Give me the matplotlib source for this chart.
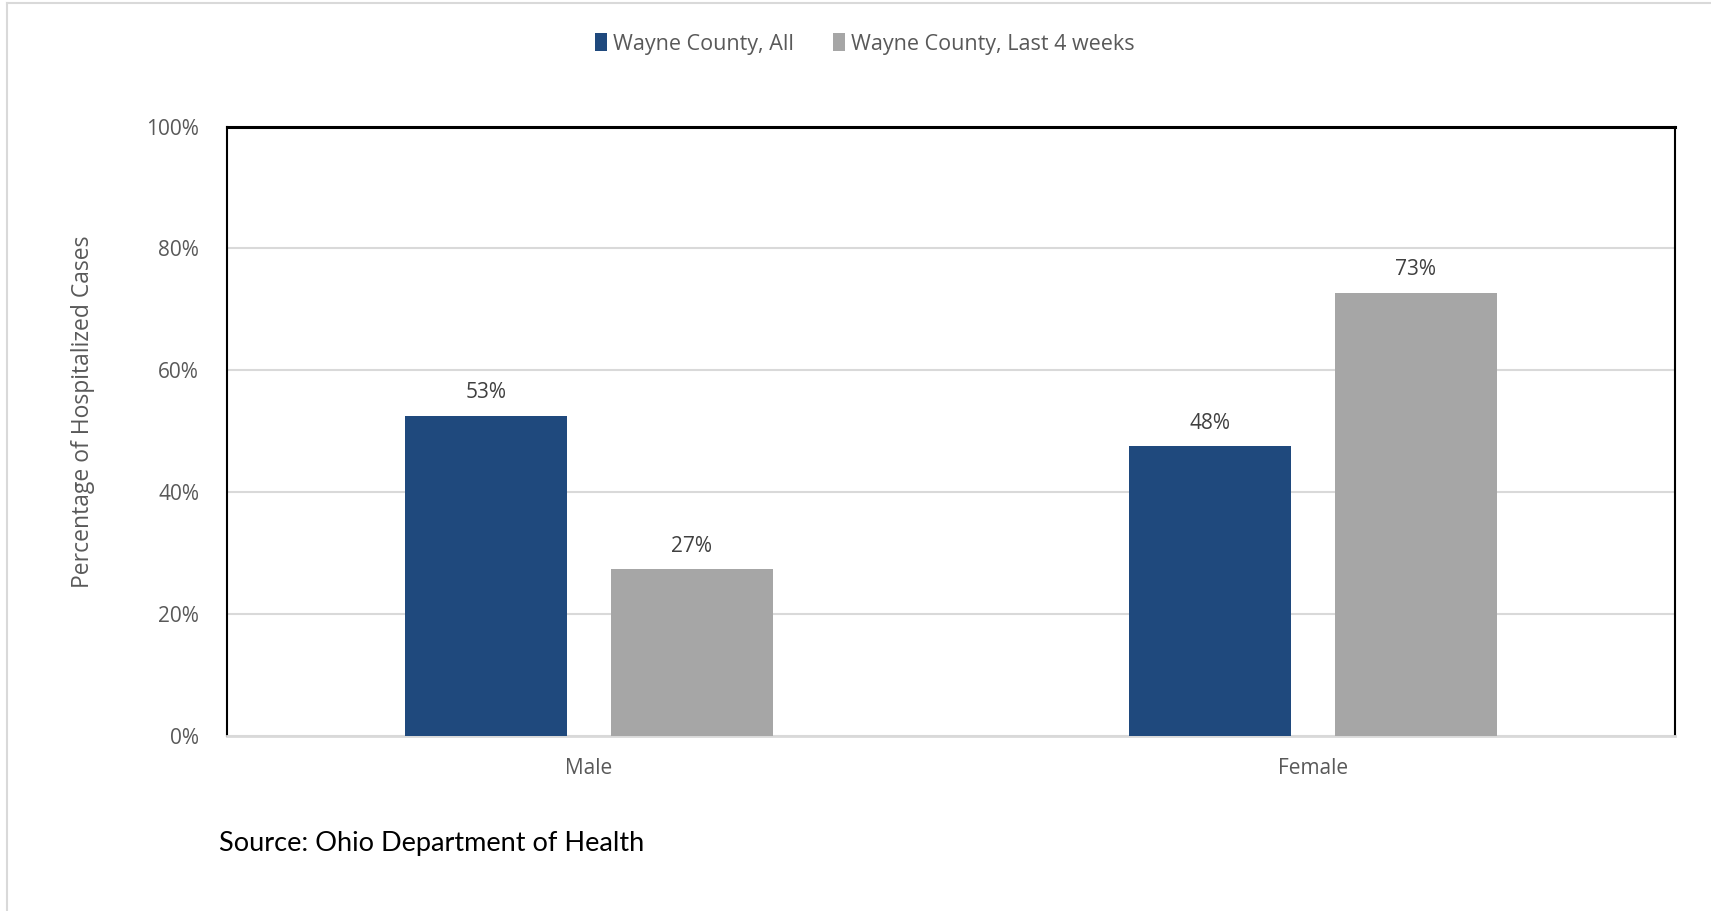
import matplotlib
matplotlib.use("Agg")
import matplotlib.pyplot as plt
import numpy as np
from matplotlib.patches import Patch
from matplotlib.lines import Line2D

categories = ["Male", "Female"]
series_names = ["Wayne County, All", "Wayne County, Last 4 weeks"]
all_vals = [52.5, 47.5]
last4_vals = [27.3, 72.7]
yticks = [0, 20, 40, 60, 80, 100]
ytick_labels = ["0%", "20%", "40%", "60%", "80%", "100%"]
source_text = "Source: Ohio Department of Health"
ylabel = "Percentage of Hospitalized Cases"

blue = "#1F497D"
gray = "#A6A6A6"
txt = "#595959"

font = "Open Sans"

fig = plt.figure(figsize=(17.11, 9.11), dpi=100)
ax = fig.add_axes([227/1711, 1-735.5/911, (1675-227)/1711, (735.5-126.6)/911])

x = np.arange(len(categories))
w = 0.224
off = 0.142
b1 = ax.bar(x - off, all_vals, w, color=blue, zorder=3)
b2 = ax.bar(x + off, last4_vals, w, color=gray, zorder=3)

def lab(v):
    return f"{int(v + 0.5)}%"

for bars, vals in ((b1, all_vals), (b2, last4_vals)):
    for r, v in zip(bars, vals):
        ax.annotate(lab(v), (r.get_x() + r.get_width()/2, v), xytext=(0, 9),
                    textcoords="offset points", ha="center", va="bottom",
                    fontsize=15, color="#404040", family=font)

ax.set_xlim(-0.5, 1.5)
ax.set_ylim(0, 100)
ax.set_yticks(yticks)
ax.set_yticklabels(ytick_labels, family=font, fontsize=15, color=txt)
ax.set_xticks(x)
ax.set_xticklabels(categories, family=font, fontsize=15, color=txt)
ax.tick_params(axis="both", length=0)
ax.tick_params(axis="y", pad=20)
ax.tick_params(axis="x", pad=16)
ax.yaxis.grid(True, color="#D9D9D9", linewidth=1.5, zorder=0)
ax.set_axisbelow(True)
for s in ("top", "left", "right"):
    ax.spines[s].set_color("black")
ax.spines["top"].set_linewidth(2.2)
ax.spines["left"].set_linewidth(1.5)
ax.spines["right"].set_linewidth(1.5)
ax.spines["bottom"].set_color("#D9D9D9")
ax.spines["bottom"].set_linewidth(2)

fig.text(83/1711, 1-412/911, ylabel, rotation=90, ha="center", va="center",
         fontsize=16.5, color=txt, family=font)

handles = [Patch(facecolor=blue), Patch(facecolor=gray)]
fig.legend(handles, series_names, loc="center", bbox_to_anchor=(865/1711, 1-44/911),
           ncol=2, frameon=False, handlelength=0.55, handleheight=0.9,
           handletextpad=0.3, columnspacing=1.8,
           prop={"family": font, "size": 15.5}, labelcolor=txt)

fig.text(219/1711, 1-844/911, source_text, ha="left", va="center",
         fontsize=19.5, color="black", family="Lato")

# outer chart border (left and top)
fig.add_artist(Line2D([7/1711, 7/1711], [0, 1-3/911], transform=fig.transFigure,
                      color="#D9D9D9", linewidth=1.5))
fig.add_artist(Line2D([7/1711, 1], [1-3/911, 1-3/911], transform=fig.transFigure,
                      color="#D9D9D9", linewidth=1.5))

fig.savefig("out.png", dpi=100, facecolor="white")
